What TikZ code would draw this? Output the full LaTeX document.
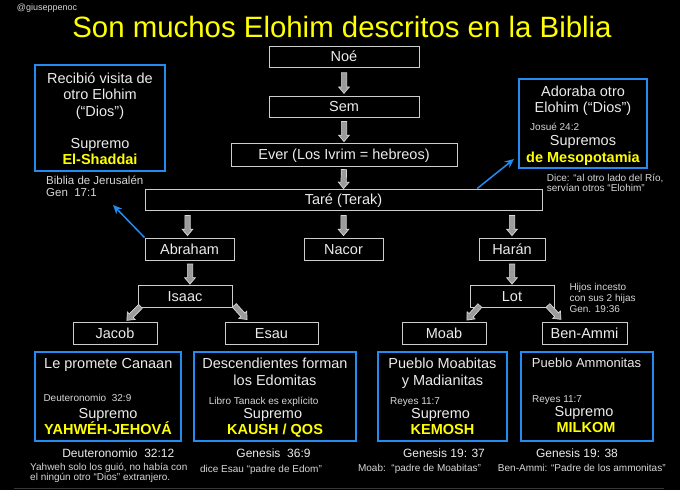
\documentclass[tikz,border=0pt]{standalone}
\usepackage{fontspec}
\setmainfont{Liberation Sans}
\usetikzlibrary{shapes.arrows,arrows.meta,calc}
\definecolor{boxgray}{RGB}{205,205,205}
\definecolor{txt}{RGB}{236,236,236}
\definecolor{notec}{RGB}{215,215,215}
\definecolor{myblue}{RGB}{35,140,240}
\definecolor{myyellow}{RGB}{255,255,0}
\definecolor{arrfill}{RGB}{155,155,155}
\definecolor{arrline}{RGB}{215,215,215}
\newcommand\fsz[1]{\fontsize{#1}{#1}\selectfont}
\begin{document}
\begin{tikzpicture}[x=1pt,y=-1pt,
  fam/.style={draw=boxgray, line width=1pt, text=txt, font=\fsz{14.5}, inner sep=0pt, text height=10.4pt, text depth=0pt},
  bbox/.style={draw=myblue, line width=2pt, inner sep=0pt},
  lb/.style={inner sep=0pt, anchor=base, text=txt, font=\fsz{14.5}},
  yb/.style={inner sep=0pt, anchor=base, text=myyellow, font=\fsz{14.5}\bfseries},
  sm/.style={inner sep=0pt, anchor=base west, text=notec, font=\fsz{10}},
  smc/.style={inner sep=0pt, anchor=base, text=notec, font=\fsz{10}},
  gen/.style={inner sep=0pt, anchor=base, text=txt, font=\fsz{12}},
  blk/.style={single arrow, draw=arrline, fill=arrfill, line width=0.7pt, text height=4.6pt, text depth=0pt, text width=0pt, inner sep=0pt, minimum width=0pt, single arrow head extend=2.7pt, single arrow tip angle=80, sloped, allow upside down},
  bluearrow/.style={draw=myblue, line width=1.5pt, -{Stealth[length=9pt,width=8pt]}}
]
\useasboundingbox (0,0) rectangle (680,490);
\fill[black] (0,0) rectangle (680,490);
\draw[color=white!22!black, line width=1pt] (14,488.8) -- (664,488.8);

% header
\node[inner sep=0pt, anchor=base west, text=notec, font=\fsz{9}] (handle) at (16.7,10) {@giuseppenoc};
\node[inner sep=0pt, anchor=base, text=myyellow, font=\fsz{29.4}] (title) at (342,37.5) {Son muchos Elohim descritos en la Biblia};

% family boxes
\node[fam, minimum width=150pt, minimum height=21pt] (noe) at (344,56.5) {Noé};
\node[fam, minimum width=150pt, minimum height=21pt] (sem) at (344,106.5) {Sem};
\node[fam, minimum width=226pt, minimum height=23pt] (ever) at (344,154.5) {Ever (Los Ivrim = hebreos)};
\node[fam, minimum width=397pt, minimum height=21pt] (tare) at (343.5,199.5) {Taré (Terak)};
\node[fam, minimum width=89pt, minimum height=22pt] (abraham) at (189.5,249) {Abraham};
\node[fam, minimum width=79pt, minimum height=22pt] (nacor) at (343.5,249) {Nacor};
\node[fam, minimum width=66pt, minimum height=22pt] (haran) at (512,249) {Harán};
\node[fam, minimum width=94pt, minimum height=22pt] (isaac) at (185,296) {Isaac};
\node[fam, minimum width=84pt, minimum height=22pt] (lot) at (512,296) {Lot};
\node[fam, minimum width=84pt, minimum height=22pt] (jacob) at (115,333) {Jacob};
\node[fam, minimum width=93pt, minimum height=22pt] (esau) at (271.5,333) {Esau};
\node[fam, minimum width=84pt, minimum height=22pt] (moab) at (444,333) {Moab};
\node[fam, minimum width=85pt, minimum height=22pt] (benammi) at (584.5,333) {Ben-Ammi};

% block arrows
\path (noe.south) -- node[blk, minimum height=20.5pt]{} (sem.north);
\path (sem.south) -- node[blk, minimum height=20pt]{} (ever.north);
\path (ever.south) -- node[blk, minimum height=19pt]{} (tare.north);
\path ($(abraham.north |- tare.south)+(-2,0)$) -- node[blk, minimum height=20pt]{} ($(abraham.north)+(-2,0)$);
\path (nacor.north |- tare.south) -- node[blk, minimum height=20pt]{} (nacor.north);
\path (haran.north |- tare.south) -- node[blk, minimum height=20pt]{} (haran.north);
\path ($(isaac.north |- abraham.south)+(5,0)$) -- node[blk, minimum height=20pt]{} ($(isaac.north)+(5,0)$);
\path (haran.south) -- node[blk, minimum height=20pt]{} (lot.north);
\path ($(isaac.south west)+(3.7,-2)$) -- node[blk, minimum height=19.6pt]{} ($(jacob.north)+(13.3,-2.7)$);
\path ($(isaac.south east)+(1.3,-2.7)$) -- node[blk, minimum height=19pt]{} ($(esau.north west)+(21,-3.7)$);
\path ($(lot.south west)+(11,-2.7)$) -- node[blk, minimum height=19.5pt]{} ($(moab.north)+(24.3,-3)$);
\path ($(lot.south east)+(-7.3,-2.7)$) -- node[blk, minimum height=19pt]{} ($(benammi.north west)+(18,-3.7)$);

% blue boxes
\node[bbox, minimum width=130pt, minimum height=106pt] (visita) at (100,118) {};
\node[bbox, minimum width=128pt, minimum height=89pt] (adora) at (583,123.5) {};
\node[bbox, minimum width=146pt, minimum height=89pt] (canaan) at (108,396.5) {};
\node[bbox, minimum width=162pt, minimum height=89pt] (edom) at (275,396.5) {};
\node[bbox, minimum width=129pt, minimum height=89pt] (moabitas) at (442.5,396.5) {};
\node[bbox, minimum width=132pt, minimum height=89pt] (ammon) at (587,396.5) {};

% blue arrows
\coordinate (pa) at (113,205);
\coordinate (pb) at (514,159);
\draw[bluearrow] (abraham.north west) -- (pa);
\draw[bluearrow] ($(tare.north west)+(332.7,0)$) -- (pb);

% top-left box
\node[lb] (v1) at (100,83) {Recibió visita de};
\node[lb] (v2) at (100,99.2) {otro Elohim};
\node[lb] (v3) at (100,116) {(“Dios”)};
\node[lb] (v4) at (100,148) {Supremo};
\node[yb] (v5) at (100,164.2) {El-Shaddai};
\node[inner sep=0pt, anchor=base west, text=notec, font=\fsz{11.5}] (v6) at (46,184) {Biblia de Jerusalén};
\node[inner sep=0pt, anchor=base west, text=notec, font=\fsz{11.5}] (v7) at (46,196) {Gen\ \ 17:1};

% top-right box
\node[lb] (a1) at (583,96) {Adoraba otro};
\node[lb] (a2) at (583,112.5) {Elohim (“Dios”)};
\node[sm] (a3) at (530,130.3) {Josué 24:2};
\node[lb] (a4) at (583,145.2) {Supremos};
\node[yb] (a5) at (583,162.2) {de Mesopotamia};
\node[sm] (a6) at (546.7,181) {Dice: “al otro lado del Río,};
\node[sm] (a7) at (546.7,191) {servían otros “Elohim”};

% Lot note
\node[sm] (h1) at (569.3,290.3) {Hijos incesto};
\node[sm] (h2) at (569.3,301.9) {con sus 2 hijas};
\node[sm] (h3) at (569.3,312.9) {Gen. 19:36};

% bottom box 1
\node[lb] (c1) at (108.3,368.5) {Le promete Canaan};
\node[sm] (c2) at (43.3,401.3) {Deuteronomio\ \ 32:9};
\node[lb] (c3) at (108,418) {Supremo};
\node[yb] (c4) at (108,434.5) {YAHWÉH-JEHOVÁ};
\node[gen] (c5) at (118.3,457) {Deuteronomio\ \ 32:12};
\node[sm] (c6) at (30,470.3) {Yahweh solo los guió, no había con};
\node[sm] (c7) at (30,480.3) {el ningún otro “Dios” extranjero.};

% bottom box 2
\node[lb] (e1) at (275,368.5) {Descendientes forman};
\node[lb] (e2) at (275,385.2) {los Edomitas};
\node[sm] (e3) at (208.7,404.6) {Libro Tanack es explícito};
\node[lb] (e4) at (272.7,418) {Supremo};
\node[yb] (e5) at (275,434.5) {KAUSH / QOS};
\node[gen] (e6) at (273.5,457) {Genesis\ \ 36:9};
\node[smc] (e7) at (261,472) {dice Esau “padre de Edom”};

% bottom box 3
\node[lb] (m1) at (442.5,368.2) {Pueblo Moabitas};
\node[lb] (m2) at (442.5,385.2) {y Madianitas};
\node[sm] (m3) at (390,404.6) {Reyes 11:7};
\node[lb] (m4) at (440.5,418) {Supremo};
\node[yb] (m5) at (442.5,434.5) {KEMOSH};
\node[gen] (m6) at (444,457) {Genesis 19: 37};
\node[smc] (m7) at (419.5,471.3) {Moab:\ \ “padre de Moabitas”};

% bottom box 4
\node[lb, font=\fsz{13}] (n1) at (586.5,367.5) {Pueblo Ammonitas};
\node[sm] (n2) at (532,402.3) {Reyes 11:7};
\node[lb] (n3) at (584,416.2) {Supremo};
\node[yb] (n4) at (586,432.5) {MILKOM};
\node[gen] (n5) at (577,457) {Genesis 19: 38};
\node[smc] (n6) at (581.8,471.3) {Ben-Ammi: “Padre de los ammonitas”};
\end{tikzpicture}
\end{document}
